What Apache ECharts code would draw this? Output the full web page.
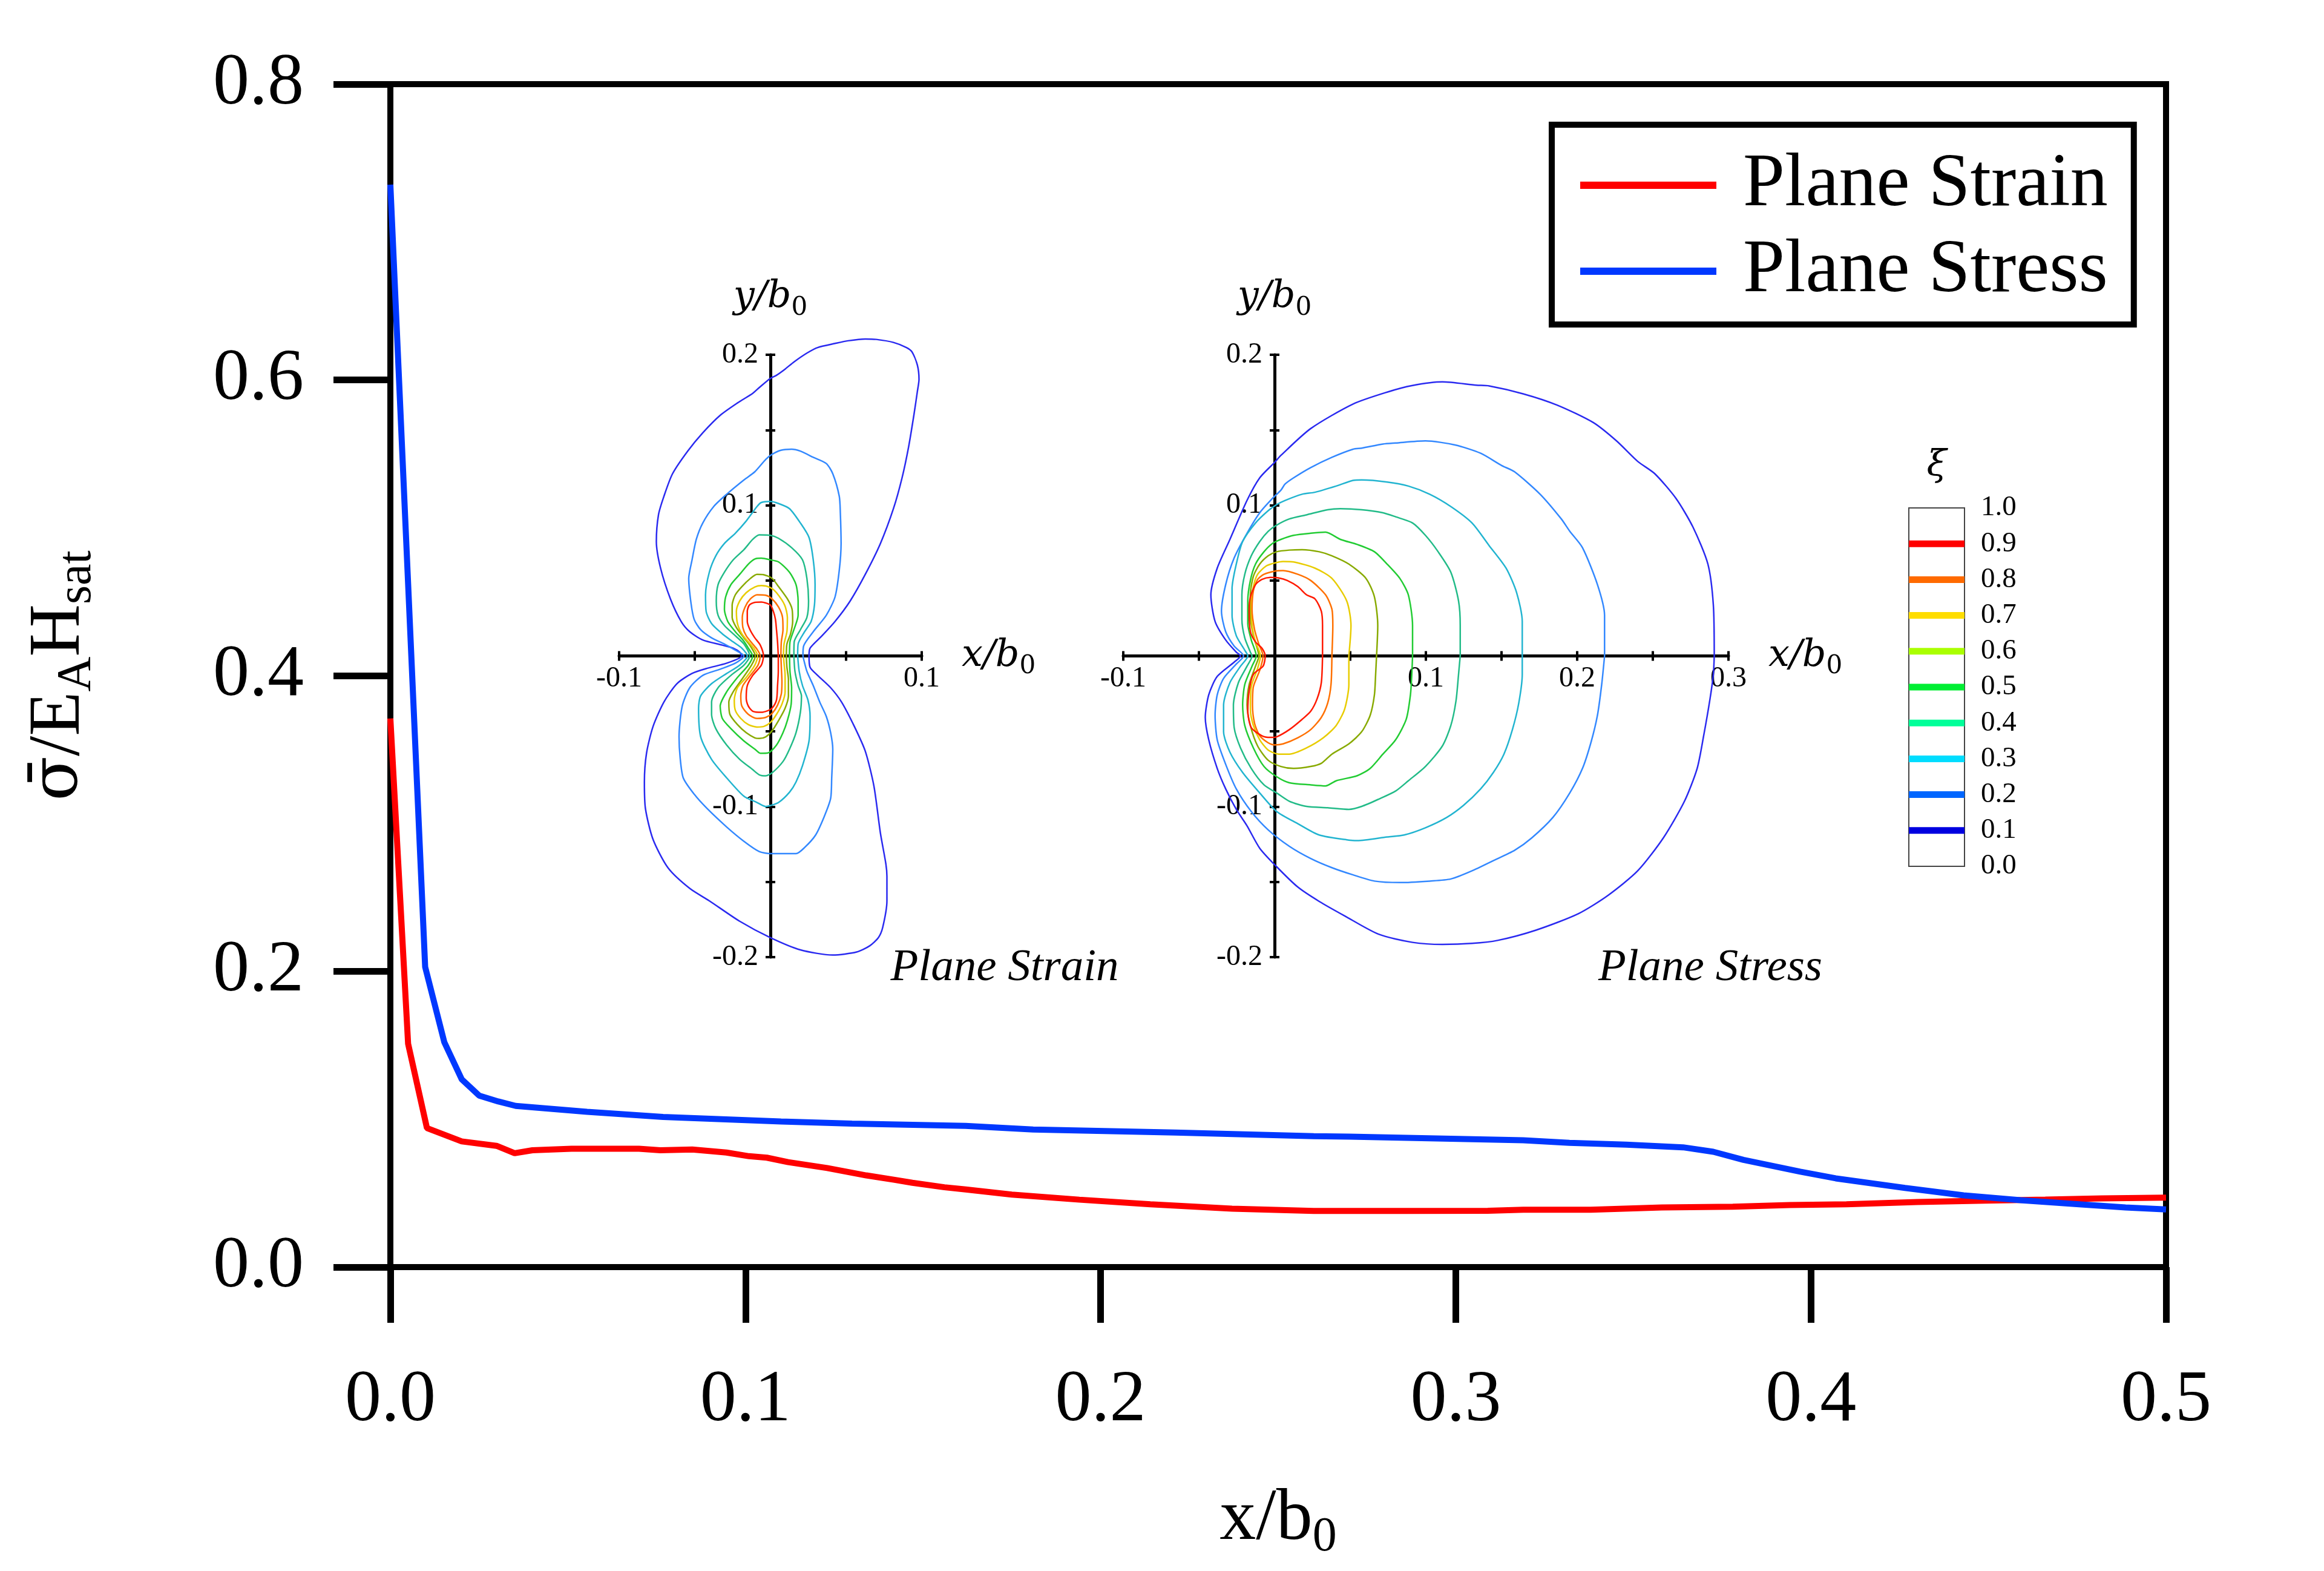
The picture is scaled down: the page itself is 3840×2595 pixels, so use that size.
<!DOCTYPE html>
<html><head><meta charset="utf-8">
<script src="https://cdn.jsdelivr.net/npm/echarts@6/dist/echarts.min.js"></script>
<style>html,body{margin:0;padding:0;background:#fff}#c{width:3840px;height:2595px}</style>
</head><body><div id="c"></div>
<script>
// ---------------- main chart data ----------------
const seriesNames = ['Plane Strain', 'Plane Stress'];
const xTickValues = [0, 0.1, 0.2, 0.3, 0.4, 0.5];
const yTickValues = [0, 0.2, 0.4, 0.6, 0.8];
const planeStrain = [[0,0.371],[0.005,0.151],[0.0103,0.094],[0.0201,0.085],[0.0299,0.082],[0.035,0.077],[0.04,0.079],[0.051,0.080],[0.07,0.080],[0.076,0.079],[0.085,0.0795],[0.0946,0.0775],[0.101,0.075],[0.106,0.074],[0.112,0.071],[0.123,0.067],[0.134,0.062],[0.142,0.059],[0.147,0.057],[0.156,0.054],[0.162,0.0525],[0.175,0.049],[0.194,0.0456],[0.214,0.0425],[0.237,0.0395],[0.26,0.038],[0.286,0.038],[0.309,0.0381],[0.319,0.0388],[0.338,0.0388],[0.358,0.0403],[0.378,0.0408],[0.394,0.042],[0.41,0.0425],[0.43,0.044],[0.449,0.0449],[0.466,0.0456],[0.482,0.0465],[0.5,0.047]];
const planeStress = [[0,0.732],[0.0098,0.203],[0.0152,0.152],[0.0201,0.127],[0.025,0.116],[0.0304,0.112],[0.0353,0.109],[0.0554,0.105],[0.0768,0.1015],[0.11,0.0985],[0.13,0.097],[0.162,0.0955],[0.181,0.093],[0.221,0.091],[0.26,0.0885],[0.27,0.0882],[0.319,0.0858],[0.332,0.084],[0.348,0.0828],[0.364,0.081],[0.3725,0.078],[0.381,0.0725],[0.397,0.0645],[0.407,0.06],[0.4265,0.0535],[0.443,0.0485],[0.459,0.0452],[0.4755,0.0425],[0.4886,0.0403],[0.5,0.039]];

// ---------------- colour bar ----------------
const levels = [0.1,0.2,0.3,0.4,0.5,0.6,0.7,0.8,0.9];
const barColors = ['#0000e0','#0066ff','#00ddff','#00ff99','#00ee33','#aaff00','#ffdd00','#ff6a00','#ff0000'];
const lineColors = ['#2a2af0','#3388ff','#22b4d0','#22bb88','#22cc33','#88aa00','#e8cc00','#ff7000','#ff1a00'];

// ---------------- plane strain contours (xi = 0.1 ... 0.9) ----------------
const strain01 = [[0.0255,0],[0.0262,0.0052],[0.0341,0.0134],[0.0427,0.0229],[0.0527,0.0365],[0.0627,0.0542],[0.0727,0.0747],[0.0813,0.0978],[0.087,0.1183],[0.0913,0.1387],[0.0949,0.1605],[0.0971,0.1755],[0.0982,0.1837],[0.0971,0.1932],[0.0935,0.202],[0.0899,0.2048],[0.0813,0.2082],[0.0699,0.2102],[0.0627,0.2105],[0.0513,0.2093],[0.0427,0.2075],[0.0312,0.2048],[0.0241,0.2011],[0.0155,0.1952],[0.0097,0.1905],[0.004,0.1864],[0,0.1843],[-0.0074,0.1782],[-0.0117,0.1744],[-0.0218,0.168],[-0.0332,0.1598],[-0.0447,0.1482],[-0.0547,0.136],[-0.0647,0.121],[-0.0704,0.106],[-0.074,0.0937],[-0.0754,0.076],[-0.0726,0.0583],[-0.0661,0.0379],[-0.059,0.0229],[-0.0533,0.0161],[-0.0447,0.0106],[-0.0318,0.0072],[-0.0246,0.0052],[-0.0203,0.0025],[-0.019,0],[-0.0289,-0.0048],[-0.0418,-0.0082],[-0.0518,-0.0116],[-0.0618,-0.0184],[-0.0704,-0.0306],[-0.0776,-0.0469],[-0.0819,-0.0646],[-0.0833,-0.0837],[-0.0826,-0.1014],[-0.0776,-0.1218],[-0.0676,-0.1408],[-0.0533,-0.1544],[-0.0404,-0.1626],[-0.0203,-0.1762],[0,-0.1871],[0.0198,-0.1952],[0.0412,-0.1986],[0.057,-0.1966],[0.0656,-0.1925],[0.0713,-0.1871],[0.0742,-0.1803],[0.077,-0.1626],[0.077,-0.1463],[0.0763,-0.1381],[0.0727,-0.1177],[0.0684,-0.0864],[0.0627,-0.0633],[0.0555,-0.0469],[0.047,-0.0306],[0.0398,-0.0211],[0.0312,-0.0129],[0.0262,-0.0075],[0.0255,0]];
const strain02 = [[0.0215,0],[0.0219,0.0065],[0.0283,0.0161],[0.0369,0.027],[0.0427,0.0392],[0.0455,0.0569],[0.0467,0.0747],[0.0462,0.0951],[0.0455,0.106],[0.0412,0.121],[0.0369,0.1278],[0.0283,0.1319],[0.0198,0.136],[0.014,0.1373],[0.0069,0.1366],[0.0011,0.1339],[-0.0031,0.1305],[-0.0103,0.1223],[-0.0175,0.1169],[-0.0289,0.1074],[-0.0375,0.0992],[-0.0447,0.0883],[-0.049,0.0774],[-0.0518,0.0638],[-0.054,0.0515],[-0.0525,0.0351],[-0.0504,0.0243],[-0.0461,0.0174],[-0.0389,0.012],[-0.0304,0.0079],[-0.0232,0.0038],[-0.0175,0],[-0.0232,-0.0048],[-0.0332,-0.0088],[-0.0447,-0.0129],[-0.0533,-0.0211],[-0.0583,-0.0333],[-0.0604,-0.0537],[-0.0597,-0.0673],[-0.0576,-0.081],[-0.0504,-0.0918],[-0.0418,-0.1014],[-0.0289,-0.1136],[-0.0175,-0.1231],[-0.0074,-0.1299],[0,-0.1313],[0.0169,-0.1313],[0.0226,-0.1272],[0.0298,-0.119],[0.0355,-0.1068],[0.0398,-0.0946],[0.0405,-0.081],[0.0412,-0.0619],[0.0398,-0.051],[0.0369,-0.0401],[0.0326,-0.0306],[0.0283,-0.0197],[0.0241,-0.0102],[0.0219,-0.002],[0.0215,0]];
const strain03 = [[0.018,0],[0.0183,0.0079],[0.0226,0.0161],[0.0269,0.0229],[0.0291,0.0338],[0.0295,0.0474],[0.0283,0.0638],[0.0255,0.0787],[0.0198,0.0883],[0.0126,0.0978],[0.0054,0.1012],[0,0.1026],[-0.006,0.1019],[-0.0089,0.0992],[-0.016,0.0896],[-0.0232,0.0815],[-0.0304,0.0747],[-0.0361,0.0665],[-0.0404,0.0556],[-0.0429,0.0406],[-0.0425,0.0297],[-0.0389,0.0215],[-0.0318,0.0147],[-0.0246,0.0093],[-0.0189,0.0052],[-0.0153,0],[-0.0203,-0.0061],[-0.0289,-0.0116],[-0.0389,-0.0184],[-0.0461,-0.0265],[-0.0475,-0.0347],[-0.0461,-0.0537],[-0.0389,-0.0687],[-0.0289,-0.081],[-0.0175,-0.0932],[-0.0089,-0.0973],[-0.0031,-0.1],[0,-0.0993],[0.0054,-0.0973],[0.0126,-0.0905],[0.0169,-0.0837],[0.0212,-0.0728],[0.0255,-0.0565],[0.0262,-0.0401],[0.0248,-0.0293],[0.0212,-0.0197],[0.019,-0.0102],[0.018,0]];
const strain04 = [[0.0155,0],[0.0157,0.0093],[0.0198,0.0174],[0.0241,0.0256],[0.0252,0.0365],[0.0241,0.0515],[0.0212,0.0638],[0.014,0.0719],[0.0054,0.0781],[0,0.0801],[-0.0074,0.0804],[-0.0117,0.0774],[-0.0175,0.0706],[-0.0246,0.0638],[-0.0304,0.0556],[-0.0346,0.0474],[-0.0358,0.0365],[-0.0346,0.027],[-0.0304,0.0202],[-0.0232,0.0134],[-0.0175,0.0079],[-0.0137,0],[-0.0175,-0.0061],[-0.0261,-0.0129],[-0.0346,-0.0211],[-0.0389,-0.0306],[-0.0389,-0.0388],[-0.0361,-0.0483],[-0.0289,-0.0592],[-0.0203,-0.0687],[-0.0117,-0.0755],[-0.0074,-0.0789],[-0.0031,-0.0796],[0.0011,-0.0776],[0.0083,-0.0701],[0.0126,-0.0619],[0.0169,-0.051],[0.0198,-0.0374],[0.0205,-0.0265],[0.0183,-0.0197],[0.0162,-0.0102],[0.0155,0]];
const strain05 = [[0.0126,0],[0.0129,0.0093],[0.0155,0.0174],[0.0183,0.027],[0.0183,0.0365],[0.0169,0.0474],[0.0126,0.0556],[0.0054,0.0624],[0,0.0638],[-0.006,0.0649],[-0.0103,0.0644],[-0.0146,0.061],[-0.0203,0.0542],[-0.0261,0.0474],[-0.0296,0.0392],[-0.0304,0.0311],[-0.0282,0.0229],[-0.0232,0.0161],[-0.0182,0.0106],[-0.0146,0.0052],[-0.0118,0],[-0.0146,-0.0061],[-0.0218,-0.0143],[-0.0289,-0.0238],[-0.0332,-0.0333],[-0.0318,-0.0415],[-0.0261,-0.0483],[-0.0175,-0.0565],[-0.0103,-0.0619],[-0.0067,-0.0646],[-0.0017,-0.0644],[0.004,-0.0592],[0.0083,-0.051],[0.0112,-0.0429],[0.0137,-0.032],[0.014,-0.0211],[0.0129,-0.0102],[0.0126,0]];
const strain06 = [[0.0105,0],[0.0109,0.0079],[0.0133,0.0147],[0.0147,0.0229],[0.0143,0.0311],[0.0112,0.0379],[0.0054,0.046],[0.0011,0.0515],[-0.0046,0.054],[-0.0089,0.0542],[-0.0132,0.0515],[-0.0189,0.046],[-0.0232,0.0406],[-0.0253,0.0338],[-0.0253,0.0256],[-0.0225,0.0188],[-0.0175,0.012],[-0.0132,0.0065],[-0.01,0],[-0.0125,-0.0061],[-0.0189,-0.0156],[-0.0246,-0.0238],[-0.0275,-0.0306],[-0.0268,-0.0388],[-0.0218,-0.0456],[-0.016,-0.051],[-0.0103,-0.0544],[-0.0074,-0.0548],[-0.0031,-0.0537],[0.0011,-0.0497],[0.0054,-0.0429],[0.0097,-0.0347],[0.0119,-0.0265],[0.0119,-0.0156],[0.0109,-0.0075],[0.0105,0]];
const strain07 = [[0.0086,0],[0.009,0.0079],[0.0109,0.0161],[0.0112,0.0256],[0.0094,0.0338],[0.004,0.042],[0,0.0454],[-0.006,0.0467],[-0.0103,0.0458],[-0.016,0.042],[-0.0203,0.0365],[-0.0225,0.0297],[-0.0218,0.0215],[-0.0189,0.0147],[-0.0146,0.0093],[-0.011,0.0052],[-0.0084,0],[-0.0103,-0.0061],[-0.016,-0.0143],[-0.0218,-0.0211],[-0.0239,-0.0293],[-0.0232,-0.0361],[-0.0196,-0.0415],[-0.0146,-0.0456],[-0.0089,-0.0472],[-0.0046,-0.0469],[0,-0.0442],[0.004,-0.0388],[0.0076,-0.032],[0.0097,-0.0238],[0.0097,-0.0129],[0.009,-0.0048],[0.0086,0]];
const strain08 = [[0.0069,0],[0.0072,0.0093],[0.0083,0.0174],[0.008,0.0256],[0.0054,0.0324],[0.0011,0.0379],[-0.0031,0.0403],[-0.0089,0.0406],[-0.0132,0.0379],[-0.0168,0.0324],[-0.0186,0.0256],[-0.0182,0.0188],[-0.016,0.0134],[-0.0117,0.0079],[-0.0089,0.0045],[-0.0067,0],[-0.0082,-0.0061],[-0.0132,-0.0129],[-0.0182,-0.0197],[-0.0196,-0.0265],[-0.0189,-0.0333],[-0.0146,-0.0388],[-0.0089,-0.0415],[-0.0031,-0.0408],[0.0011,-0.0381],[0.0047,-0.0327],[0.0072,-0.0252],[0.0076,-0.017],[0.0072,-0.0075],[0.0069,0]];
const strain09 = [[0.0052,0],[0.0047,0.0093],[0.004,0.0174],[0.0033,0.0243],[0.0019,0.0297],[0,0.0338],[-0.0031,0.0352],[-0.006,0.0358],[-0.0103,0.0356],[-0.0139,0.0338],[-0.0153,0.0297],[-0.0153,0.0229],[-0.0135,0.0174],[-0.0103,0.012],[-0.0067,0.0072],[-0.0046,0],[-0.006,-0.0061],[-0.0117,-0.0129],[-0.0153,-0.0197],[-0.016,-0.0279],[-0.0146,-0.0333],[-0.0117,-0.0367],[-0.006,-0.0374],[-0.0017,-0.0363],[0.0011,-0.0347],[0.004,-0.0293],[0.0047,-0.0197],[0.0052,-0.0102],[0.0052,0]];

// ---------------- plane stress contours (xi = 0.1 ... 0.9) ----------------
const stress01 = [[0.2906,0],[0.29,0.0338],[0.2864,0.061],[0.2765,0.0856],[0.2653,0.1046],[0.2513,0.121],[0.24,0.1292],[0.226,0.1428],[0.2106,0.155],[0.1867,0.1666],[0.1642,0.1741],[0.1418,0.1793],[0.1334,0.1798],[0.1109,0.182],[0.0912,0.1796],[0.0744,0.1752],[0.0519,0.1673],[0.0239,0.151],[0.0042,0.1332],[0,0.1285],[-0.0098,0.1183],[-0.0182,0.1033],[-0.0295,0.0774],[-0.0379,0.0583],[-0.0421,0.0406],[-0.0393,0.0229],[-0.0323,0.0106],[-0.0253,0.0025],[-0.0225,0],[-0.0267,-0.0041],[-0.0379,-0.0136],[-0.0435,-0.0258],[-0.0458,-0.0408],[-0.0435,-0.0557],[-0.0379,-0.0747],[-0.0323,-0.0883],[-0.0253,-0.1019],[-0.0182,-0.1128],[-0.0098,-0.1277],[0.0014,-0.14],[0.0154,-0.1535],[0.0295,-0.163],[0.0463,-0.1726],[0.0688,-0.1848],[0.0912,-0.1902],[0.1109,-0.1916],[0.1305,-0.1909],[0.1474,-0.1889],[0.1727,-0.1821],[0.2007,-0.1712],[0.2204,-0.159],[0.24,-0.1427],[0.2569,-0.1209],[0.2709,-0.0965],[0.2793,-0.0747],[0.2836,-0.053],[0.2878,-0.0285],[0.29,-0.0122],[0.2906,0]];
const stress02 = [[0.2181,0],[0.2181,0.027],[0.2134,0.0474],[0.2035,0.0719],[0.1951,0.0828],[0.1895,0.091],[0.1755,0.1074],[0.1586,0.1223],[0.1502,0.1264],[0.1362,0.1346],[0.1193,0.1401],[0.0997,0.1428],[0.08,0.1414],[0.0716,0.1407],[0.0576,0.138],[0.0519,0.1373],[0.0379,0.1319],[0.0239,0.1251],[0.0126,0.1183],[0.007,0.1142],[0.0042,0.1101],[-0.0014,0.1046],[-0.0098,0.0951],[-0.0182,0.0815],[-0.0267,0.0651],[-0.0323,0.0474],[-0.0351,0.0297],[-0.0323,0.0161],[-0.0267,0.0065],[-0.0205,0],[-0.0253,-0.0054],[-0.0337,-0.0149],[-0.0379,-0.0258],[-0.0393,-0.0394],[-0.0379,-0.0557],[-0.0323,-0.072],[-0.0253,-0.0883],[-0.0154,-0.1033],[-0.0042,-0.1155],[0.0098,-0.1264],[0.0239,-0.1345],[0.0379,-0.1406],[0.0519,-0.1454],[0.066,-0.1495],[0.0828,-0.1505],[0.1025,-0.1495],[0.1165,-0.1481],[0.1305,-0.1427],[0.1446,-0.1359],[0.1586,-0.1291],[0.1699,-0.1209],[0.1839,-0.1073],[0.1951,-0.091],[0.2035,-0.0747],[0.2092,-0.0571],[0.2134,-0.0394],[0.2162,-0.019],[0.2181,0]];
const stress03 = [[0.1637,0],[0.1637,0.0229],[0.16,0.042],[0.153,0.0583],[0.1418,0.0733],[0.1305,0.0883],[0.1165,0.0992],[0.1025,0.1074],[0.0884,0.1128],[0.0744,0.1155],[0.0576,0.1169],[0.0519,0.1166],[0.0407,0.1128],[0.0267,0.1087],[0.0182,0.1074],[0.007,0.1033],[0.0014,0.1005],[-0.0042,0.0965],[-0.0126,0.0883],[-0.0211,0.076],[-0.0253,0.061],[-0.0281,0.0447],[-0.0281,0.027],[-0.0253,0.0134],[-0.0197,0.0038],[-0.0177,0],[-0.0225,-0.0068],[-0.0295,-0.0177],[-0.0337,-0.0326],[-0.0337,-0.0503],[-0.0295,-0.0639],[-0.0211,-0.0774],[-0.0098,-0.091],[0.0014,-0.1033],[0.0154,-0.1114],[0.0295,-0.1189],[0.0491,-0.1223],[0.0547,-0.1226],[0.0744,-0.1202],[0.0856,-0.1189],[0.0997,-0.1141],[0.1137,-0.1073],[0.1249,-0.0992],[0.1362,-0.0883],[0.1446,-0.0774],[0.1516,-0.0652],[0.1572,-0.0489],[0.1614,-0.0313],[0.1637,-0.0122],[0.1637,0]];
const stress04 = [[0.1227,0],[0.1227,0.0202],[0.1216,0.0365],[0.1165,0.0556],[0.1081,0.0692],[0.0997,0.0801],[0.0912,0.0883],[0.08,0.0924],[0.0716,0.0951],[0.0576,0.0971],[0.0435,0.0978],[0.0351,0.0971],[0.0211,0.0937],[0.0098,0.091],[0.0014,0.0869],[-0.0042,0.0828],[-0.0098,0.076],[-0.0154,0.0665],[-0.0197,0.0542],[-0.0216,0.0406],[-0.0216,0.0243],[-0.0197,0.012],[-0.016,0.0025],[-0.0149,0],[-0.0182,-0.0068],[-0.0239,-0.0177],[-0.0272,-0.0326],[-0.0267,-0.0476],[-0.0225,-0.0611],[-0.0154,-0.0747],[-0.007,-0.0856],[0.0014,-0.091],[0.0098,-0.0965],[0.0211,-0.0999],[0.0351,-0.1008],[0.0491,-0.1019],[0.0576,-0.0999],[0.0688,-0.0951],[0.08,-0.0897],[0.0884,-0.0829],[0.0997,-0.0734],[0.1109,-0.0598],[0.1165,-0.0462],[0.1199,-0.0299],[0.1216,-0.0122],[0.1227,0]];
const stress05 = [[0.0912,0],[0.0912,0.0202],[0.0884,0.0406],[0.0828,0.0515],[0.0744,0.061],[0.066,0.0692],[0.0547,0.074],[0.0435,0.0774],[0.0337,0.0822],[0.0239,0.0815],[0.0126,0.0801],[0.0042,0.0774],[-0.0014,0.0747],[-0.007,0.0692],[-0.0126,0.061],[-0.016,0.0501],[-0.0177,0.0365],[-0.0177,0.0215],[-0.0154,0.0106],[-0.0121,0],[-0.0149,-0.0068],[-0.0197,-0.019],[-0.0211,-0.0326],[-0.0197,-0.0462],[-0.014,-0.0611],[-0.007,-0.0734],[0.0014,-0.0802],[0.0098,-0.0842],[0.0239,-0.0856],[0.0337,-0.0863],[0.0407,-0.0829],[0.0547,-0.0795],[0.0632,-0.0747],[0.0716,-0.0652],[0.08,-0.0557],[0.087,-0.0421],[0.0898,-0.0258],[0.0907,-0.0122],[0.0912,0]];
const stress06 = [[0.0674,0],[0.0682,0.0202],[0.066,0.0392],[0.0604,0.0515],[0.0491,0.061],[0.0379,0.0665],[0.0295,0.0692],[0.0182,0.0706],[0.0098,0.0703],[0.0014,0.0692],[-0.0042,0.0665],[-0.0098,0.061],[-0.014,0.0529],[-0.016,0.0406],[-0.016,0.027],[-0.014,0.0134],[-0.0104,0],[-0.0126,-0.0068],[-0.0168,-0.019],[-0.0182,-0.0326],[-0.016,-0.0462],[-0.0112,-0.0598],[-0.0042,-0.0693],[0.0042,-0.0734],[0.0126,-0.0747],[0.0239,-0.0734],[0.0309,-0.0713],[0.0379,-0.0652],[0.0491,-0.0584],[0.0576,-0.0503],[0.0632,-0.0394],[0.066,-0.0258],[0.0668,-0.0122],[0.0674,0]];
const stress07 = [[0.0491,0],[0.0505,0.0202],[0.0477,0.0365],[0.0379,0.0515],[0.0267,0.0583],[0.0126,0.0624],[0.0056,0.0627],[0,0.0617],[-0.0056,0.0597],[-0.0112,0.0542],[-0.014,0.046],[-0.0154,0.0338],[-0.0149,0.0202],[-0.0126,0.0093],[-0.0093,0],[-0.0112,-0.0082],[-0.0154,-0.0204],[-0.016,-0.0353],[-0.014,-0.0462],[-0.0098,-0.0557],[-0.0042,-0.0625],[0.0028,-0.0652],[0.0098,-0.0652],[0.0211,-0.0611],[0.0323,-0.0543],[0.0407,-0.0462],[0.0463,-0.0353],[0.0491,-0.019],[0.0491,0]];
const stress08 = [[0.0379,0],[0.0385,0.0202],[0.0379,0.0311],[0.0337,0.0406],[0.0239,0.0501],[0.0154,0.0542],[0.0056,0.0567],[0,0.0563],[-0.007,0.0542],[-0.0112,0.0508],[-0.014,0.0433],[-0.0149,0.0311],[-0.0132,0.0174],[-0.0104,0.0079],[-0.0076,0],[-0.0098,-0.0095],[-0.014,-0.0204],[-0.0146,-0.0326],[-0.0132,-0.0448],[-0.0098,-0.053],[-0.0042,-0.0577],[0,-0.0591],[0.0056,-0.0584],[0.0154,-0.0543],[0.0239,-0.0489],[0.0309,-0.0408],[0.0351,-0.0313],[0.0373,-0.019],[0.0379,0]];
const stress09 = [[0.0317,0],[0.0317,0.0202],[0.0309,0.0297],[0.0267,0.0379],[0.0211,0.0406],[0.0154,0.046],[0.0084,0.0501],[0.0028,0.0518],[-0.0028,0.0522],[-0.0084,0.0508],[-0.0126,0.0474],[-0.016,0.0392],[-0.0168,0.0297],[-0.016,0.0161],[-0.0126,0.0093],[-0.0084,0.0052],[-0.0062,0],[-0.0076,-0.0068],[-0.014,-0.0122],[-0.0168,-0.0231],[-0.0177,-0.0367],[-0.0154,-0.0476],[-0.0084,-0.053],[-0.0028,-0.0541],[0.0014,-0.0537],[0.0098,-0.0489],[0.0182,-0.0421],[0.0239,-0.0367],[0.0281,-0.0285],[0.0309,-0.0177],[0.0317,0]];

const strainContours = [strain01,strain02,strain03,strain04,strain05,strain06,strain07,strain08,strain09];
const stressContours = [stress01,stress02,stress03,stress04,stress05,stress06,stress07,stress08,stress09];

// ---------------- chart ----------------
const SERIF = '"Liberation Serif", "Times New Roman", serif';
const MATH = '"DejaVu Serif", serif';
const chart = echarts.init(document.getElementById('c'), null, {renderer: 'canvas', width: 3840, height: 2595});

function insetLabel(v) {
  const k = Math.round(v * 100);
  if (k === 0 || k % 10 !== 0) return '';
  return (k / 100).toFixed(1);
}
const insetRich = {
  i: {fontFamily: MATH, fontStyle: 'italic', fontSize: 62, lineHeight: 78, verticalAlign: 'middle', color: '#000'},
  s: {fontFamily: MATH, fontSize: 42, lineHeight: 40, verticalAlign: 'bottom', color: '#000'}
};
const mainRich = {
  g: {fontFamily: MATH, fontSize: 108, lineHeight: 140, verticalAlign: 'middle', color: '#000'},
  m: {fontFamily: SERIF, fontSize: 120, lineHeight: 140, verticalAlign: 'middle', color: '#000'},
  s: {fontFamily: SERIF, fontSize: 80, lineHeight: 64, verticalAlign: 'bottom', color: '#000'}
};

const grids = [];
const xAxes = [];
const yAxes = [];
function addGrid(g) { g.outerBoundsMode = 'none'; g.containLabel = false; grids.push(g); return grids.length - 1; }

// main plot
const gMain = addGrid({left: 645, right: 261, top: 139, bottom: 502, show: true, borderColor: '#000', borderWidth: 10, backgroundColor: 'transparent'});
xAxes.push({gridIndex: gMain, type: 'value', min: xTickValues[0], max: xTickValues[xTickValues.length - 1], interval: 0.1, position: 'bottom',
  axisLine: {onZero: false, lineStyle: {color: '#000', width: 10}},
  axisTick: {length: 92, lineStyle: {color: '#000', width: 11}},
  axisLabel: {margin: 161, fontFamily: SERIF, fontSize: 120, lineHeight: 120, color: '#000', formatter: function (v) { return v.toFixed(1); }},
  splitLine: {show: false},
  name: '{m|x/b}{s|0}', nameLocation: 'middle', nameGap: 347, nameTextStyle: {rich: mainRich}});
yAxes.push({gridIndex: gMain, type: 'value', min: yTickValues[0], max: yTickValues[yTickValues.length - 1], interval: 0.2, position: 'left',
  axisLine: {onZero: false, lineStyle: {color: '#000', width: 10}},
  axisTick: {length: 94, lineStyle: {color: '#000', width: 11}},
  axisLabel: {margin: 143, fontFamily: SERIF, fontSize: 120, color: '#000', formatter: function (v) { return v.toFixed(1); }},
  splitLine: {show: false},
  name: '{g|σ\u0304}{m|/E}{s|A}{m|H}{s|sat}', nameLocation: 'middle', nameRotate: 90, nameGap: 477, nameTextStyle: {rich: mainRich}});

// inset builder: plot grid (hidden axes) + cross axes drawn on their own grids at x=0 / y=0
function buildInset(left, width, xmin, xmax) {
  const top = 586, height = 995;
  const zeroX = left + width * (0 - xmin) / (xmax - xmin);
  const gPlot = addGrid({left: left, top: top, width: width, height: height});
  xAxes.push({gridIndex: gPlot, type: 'value', min: xmin, max: xmax, show: false});
  yAxes.push({gridIndex: gPlot, type: 'value', min: -0.2, max: 0.2, show: false});
  // horizontal axis along y = 0 (ticks both sides)
  [true, false].forEach(function (primary) {
    const g = addGrid({left: left, top: top, width: width, height: height / 2});
    xAxes.push({gridIndex: g, type: 'value', min: xmin, max: xmax, interval: 0.05, position: 'bottom',
      axisLine: {show: primary, onZero: false, lineStyle: {color: '#000', width: 5}},
      axisTick: {show: true, inside: !primary, length: 8, lineStyle: {color: '#000', width: 4}},
      axisLabel: {show: primary, formatter: insetLabel, fontFamily: SERIF, fontSize: 48, color: '#000', margin: 14, showMinLabel: true, showMaxLabel: true},
      splitLine: {show: false},
      name: primary ? '{i|x/b}{s|0}' : '', nameLocation: 'end', nameGap: 66, nameTextStyle: {rich: insetRich}});
    yAxes.push({gridIndex: g, type: 'value', min: 0, max: 0.2, show: false});
  });
  // vertical axis along x = 0 (ticks both sides)
  [true, false].forEach(function (primary) {
    const g = addGrid({left: zeroX, top: top, width: left + width - zeroX, height: height});
    xAxes.push({gridIndex: g, type: 'value', min: 0, max: xmax, show: false});
    yAxes.push({gridIndex: g, type: 'value', min: -0.2, max: 0.2, interval: 0.05, position: 'left',
      axisLine: {show: primary, onZero: false, lineStyle: {color: '#000', width: 5}},
      axisTick: {show: true, inside: !primary, length: 8, lineStyle: {color: '#000', width: 4}},
      axisLabel: {show: primary, formatter: insetLabel, fontFamily: SERIF, fontSize: 48, color: '#000', margin: 20, showMinLabel: true, showMaxLabel: true},
      splitLine: {show: false},
      name: primary ? '{i|y/b}{s|0}' : '', nameLocation: 'end', nameGap: 56, nameTextStyle: {rich: insetRich}});
  });
  return gPlot;
}
const gStrain = buildInset(1023, 500, -0.1, 0.1);
const gStress = buildInset(1856, 1000, -0.1, 0.3);

// colour bar
const gBar = addGrid({left: 3154, top: 839, width: 92, height: 592, show: true, borderColor: '#444', borderWidth: 2, backgroundColor: 'transparent'});
xAxes.push({gridIndex: gBar, type: 'value', min: 0, max: 1, show: false});
yAxes.push({gridIndex: gBar, type: 'value', min: 0, max: 1, interval: 0.1, position: 'right',
  axisLine: {show: false}, axisTick: {show: false}, splitLine: {show: false},
  axisLabel: {margin: 27, fontFamily: SERIF, fontSize: 47, color: '#000', padding: [0, 0, 14, 0], formatter: function (v) { return v.toFixed(1); }}});

const series = [
  {name: seriesNames[0], type: 'line', xAxisIndex: gMain, yAxisIndex: gMain, data: planeStrain, showSymbol: false, symbol: 'none',
   lineStyle: {color: '#ff0000', width: 10}, itemStyle: {color: '#ff0000'}, z: 4},
  {name: seriesNames[1], type: 'line', xAxisIndex: gMain, yAxisIndex: gMain, data: planeStress, showSymbol: false, symbol: 'none',
   lineStyle: {color: '#0038ff', width: 10}, itemStyle: {color: '#0038ff'}, z: 4}
];
levels.forEach(function (lv, i) {
  series.push({type: 'line', xAxisIndex: gStrain, yAxisIndex: gStrain, data: strainContours[i], symbol: 'none', smooth: 0.25, clip: false, silent: true,
    lineStyle: {color: lineColors[i], width: 2.5}, z: 3});
  series.push({type: 'line', xAxisIndex: gStress, yAxisIndex: gStress, data: stressContours[i], symbol: 'none', smooth: 0.25, clip: false, silent: true,
    lineStyle: {color: lineColors[i], width: 2.5}, z: 3});
  series.push({type: 'line', xAxisIndex: gBar, yAxisIndex: gBar, data: [[0, lv], [1, lv]], symbol: 'none', silent: true,
    lineStyle: {color: barColors[i], width: 11}, z: 3});
});

const option = {
  animation: false,
  backgroundColor: '#ffffff',
  grid: grids,
  xAxis: xAxes,
  yAxis: yAxes,
  legend: {
    data: seriesNames, orient: 'vertical', left: 2564, top: 206,
    padding: [29, 43, 17, 47], itemGap: 0, itemWidth: 225, itemHeight: 12, icon: 'rect',
    borderColor: '#000', borderWidth: 10, backgroundColor: '#fff',
    textStyle: {fontFamily: SERIF, fontSize: 124, lineHeight: 142, color: '#000', padding: [0, 0, 0, 39]}
  },
  graphic: [
    {type: 'text', x: 3200, y: 770, z: 10, style: {text: 'ξ', fontFamily: MATH, fontStyle: 'italic', fontSize: 60, fill: '#000', align: 'center', verticalAlign: 'middle', textAlign: 'center', textVerticalAlign: 'middle'}},
    {type: 'text', x: 1660, y: 1599, z: 10, style: {text: 'Plane Strain', fontFamily: SERIF, fontStyle: 'italic', fontSize: 75, fill: '#000', align: 'center', verticalAlign: 'middle', textAlign: 'center', textVerticalAlign: 'middle'}},
    {type: 'text', x: 2826, y: 1599, z: 10, style: {text: 'Plane Stress', fontFamily: SERIF, fontStyle: 'italic', fontSize: 75, fill: '#000', align: 'center', verticalAlign: 'middle', textAlign: 'center', textVerticalAlign: 'middle'}}
  ],
  series: series
};
chart.setOption(option);
</script>
</body></html>
